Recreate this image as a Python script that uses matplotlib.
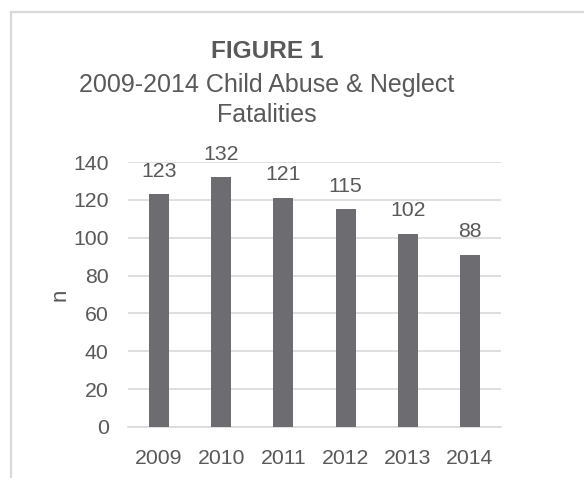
import matplotlib
matplotlib.use("Agg")
import matplotlib.pyplot as plt
from matplotlib.patches import Rectangle

years = ["2009", "2010", "2011", "2012", "2013", "2014"]
fatalities = [123, 132, 121, 115, 102, 91]
bar_labels = ["123", "132", "121", "115", "102", "88"]
y_ticks = [0, 20, 40, 60, 80, 100, 120, 140]

plt.rcParams['font.family'] = ['Liberation Sans', 'DejaVu Sans']
text_color = '#595959'
grid_color = '#d9d9d9'
bar_color = '#6d6c71'

W, H = 584, 478
fig = plt.figure(figsize=(W / 100, H / 100), dpi=100)

# light grey frame of the chart area, running off the right and bottom
fig.patches.append(Rectangle((11 / W, -0.1), 1.2, 1 - 12 / H + 0.1, transform=fig.transFigure,
                             fill=False, edgecolor=grid_color, linewidth=1.6))

ax = fig.add_axes([128 / W, 1 - 427 / H, (501 - 128) / W, (427 - 162) / H])
x = range(len(years))
bars = ax.bar(x, fatalities, width=0.32, color=bar_color, zorder=3)
ax.set_xlim(-0.5, len(years) - 0.5)
ax.set_ylim(0, 140)
ax.set_yticks(y_ticks)
ax.set_xticks(list(x))
ax.set_xticklabels(years)
ax.grid(axis='y', color=grid_color, linewidth=1.2, zorder=0)
for s in ['top', 'right', 'left']:
    ax.spines[s].set_visible(False)
ax.spines['bottom'].set_color(grid_color)
ax.spines['bottom'].set_linewidth(1.2)
ax.tick_params(length=0, labelsize=15.3, colors=text_color)
ax.tick_params(axis='y', pad=14)
ax.tick_params(axis='x', pad=16)
ax.set_ylabel('n', fontsize=16, color=text_color, labelpad=1.5)

for b, lab in zip(bars, bar_labels):
    ax.annotate(lab, (b.get_x() + b.get_width() / 2, b.get_height()),
                xytext=(0, 12.6), textcoords='offset points', ha='center', va='baseline',
                fontsize=15.3, color=text_color)

fig.text(267 / W, 1 - 58 / H, 'FIGURE 1', ha='center', va='baseline',
         fontsize=17.6, fontweight='bold', color=text_color)
fig.text(267 / W, 1 - 92 / H, '2009-2014 Child Abuse & Neglect', ha='center',
         va='baseline', fontsize=18, color=text_color)
fig.text(267 / W, 1 - 122 / H, 'Fatalities', ha='center',
         va='baseline', fontsize=18, color=text_color)

fig.savefig('out.png', dpi=100)
